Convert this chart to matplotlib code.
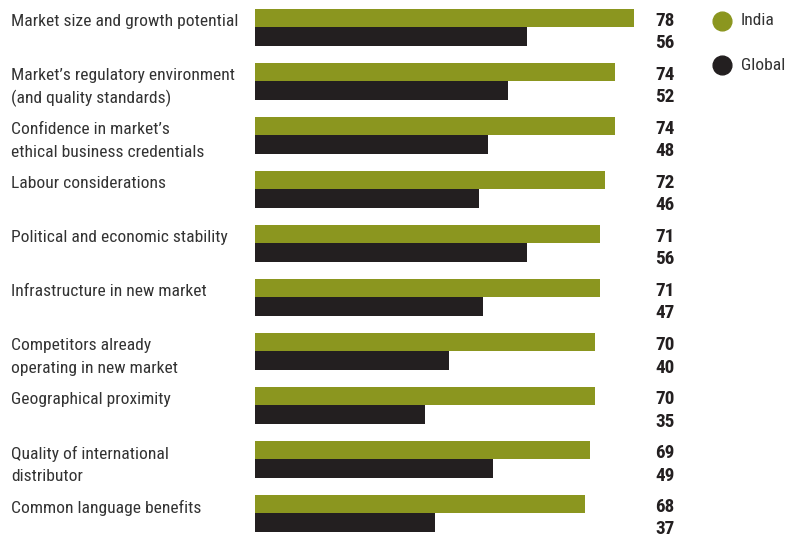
import matplotlib
matplotlib.use("Agg")
import matplotlib.pyplot as plt
from matplotlib import font_manager
from matplotlib.transforms import blended_transform_factory
from matplotlib.lines import Line2D

factors = [
    "Market size and growth potential",
    "Market\u2019s regulatory environment\n(and quality standards)",
    "Confidence in market\u2019s\nethical business credentials",
    "Labour considerations",
    "Political and economic stability",
    "Infrastructure in new market",
    "Competitors already\noperating in new market",
    "Geographical proximity",
    "Quality of international\ndistributor",
    "Common language benefits",
]
india = [78, 74, 74, 72, 71, 71, 70, 70, 69, 68]
global_ = [56, 52, 48, 46, 56, 47, 40, 35, 49, 37]

INDIA_COLOR = "#8b961f"
GLOBAL_COLOR = "#231f20"
TEXT_COLOR = "#333333"

avail = {f.name for f in font_manager.fontManager.ttflist}
candidates = ["Liberation Sans Narrow", "Roboto Condensed", "DejaVu Sans Condensed",
              "Open Sans Condensed", "Roboto", "DejaVu Sans"]
chosen = [c for c in candidates if c in avail][0]
plt.rcParams["font.family"] = [chosen, "DejaVu Sans"]

W, H, DPI = 798, 539, 100
fig = plt.figure(figsize=(W / DPI, H / DPI), dpi=DPI)

# pixel geometry of the plotting area
px_left = 255
px_per_unit = (634 - 255) / 78
xmax = 80
ax = fig.add_axes([px_left / W, 0, xmax * px_per_unit / W, 1])
row_px = 54
ax.set_xlim(0, xmax)
top_px = 27 - 0.5 * row_px
ax.set_ylim(9.5 + (H - (top_px + 10 * row_px)) / row_px, -0.5 - top_px / row_px)
ax.axis("off")

bar_h = 18.5 / row_px
ypos = list(range(len(factors)))
ax.barh([y - bar_h / 2 for y in ypos], india, height=bar_h, color=INDIA_COLOR)
ax.barh([y + bar_h / 2 for y in ypos], global_, height=bar_h, color=GLOBAL_COLOR)

lab_tr = blended_transform_factory(fig.transFigure, ax.transData)
fs = 12.6
vfs = 13.8
label_off = [-5.5 / row_px, 17.5 / row_px]
value_off = [-6.5 / row_px, 16.5 / row_px]
for y, name, a, b in zip(ypos, factors, india, global_):
    for k, line in enumerate(name.split("\n")):
        fig.text(11 / W, y + label_off[k], line, transform=lab_tr, fontsize=fs,
                 color=TEXT_COLOR, va="center", ha="left")
    fig.text(655 / W, y + value_off[0], f"{a}", transform=lab_tr, fontsize=vfs,
             fontweight="bold", color=GLOBAL_COLOR, va="center", ha="left")
    fig.text(655 / W, y + value_off[1], f"{b}", transform=lab_tr, fontsize=vfs,
             fontweight="bold", color=GLOBAL_COLOR, va="center", ha="left")

# legend
for name, color, py in [("India", INDIA_COLOR, 20.5), ("Global", GLOBAL_COLOR, 65)]:
    fig.add_artist(Line2D([722 / W], [1 - py / H], marker="o", markersize=13.5,
                          color=color, transform=fig.transFigure, linestyle="none"))
    fig.text(741 / W, 1 - py / H, name, fontsize=fs, color=TEXT_COLOR,
             va="center", ha="left")

fig.savefig("out.png", dpi=DPI)
